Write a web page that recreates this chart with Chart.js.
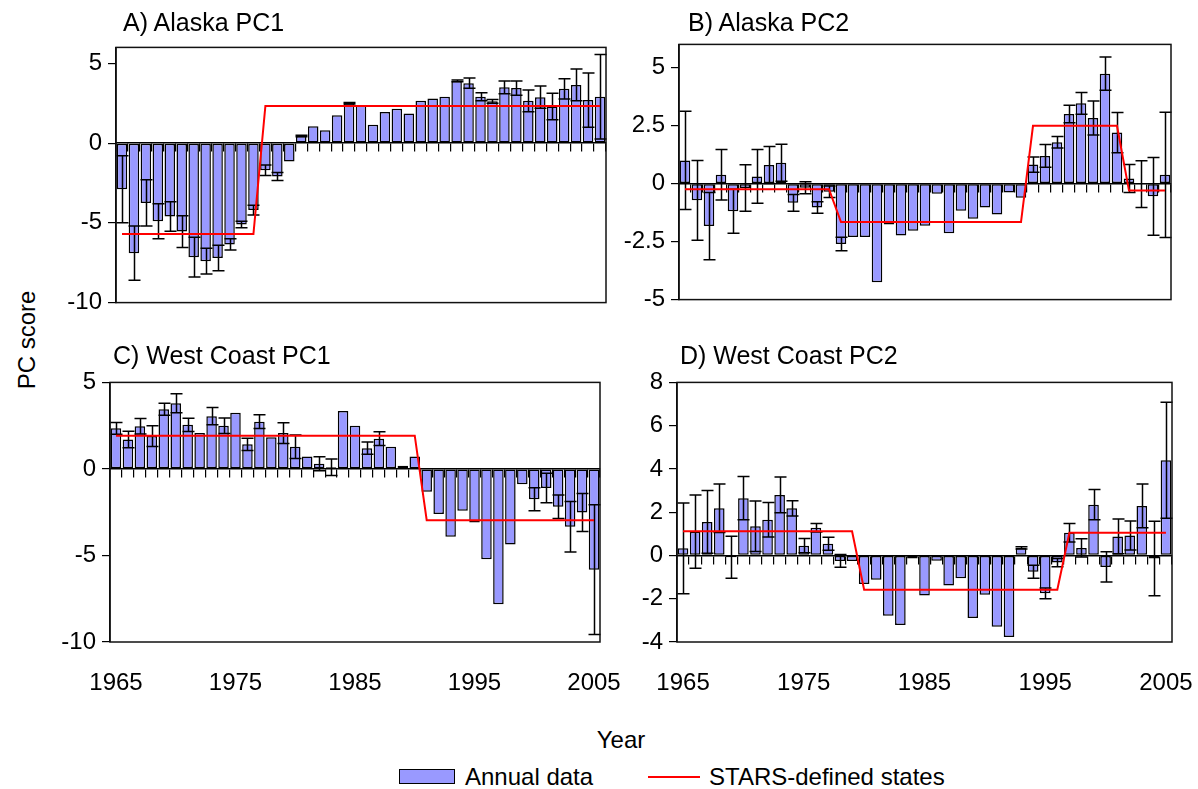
<!DOCTYPE html>
<html><head><meta charset="utf-8">
<script src="https://cdn.jsdelivr.net/npm/chart.js@4.4.1/dist/chart.umd.min.js"></script>
<style>
html,body{margin:0;padding:0;background:#fff;}
#wrap{position:relative;width:1198px;height:789px;overflow:hidden;font-family:"Liberation Sans",Arial,sans-serif;color:#000;background:#fff;}
canvas{position:absolute;}
.t{position:absolute;font-size:24px;white-space:nowrap;line-height:1;}
.h{font-size:25px;}
</style></head><body><div id="wrap">
<canvas id="cA" width="580" height="296" style="left:56px;top:27px"></canvas>
<canvas id="cB" width="582" height="296" style="left:619px;top:24px"></canvas>
<canvas id="cC" width="600" height="340" style="left:50px;top:362px"></canvas>
<canvas id="cD" width="605" height="340" style="left:617px;top:362px"></canvas>
<div class="t h" style="left:123px;top:10px">A) Alaska PC1</div>
<div class="t h" style="left:688px;top:10px">B) Alaska PC2</div>
<div class="t h" style="left:113px;top:343px">C) West Coast PC1</div>
<div class="t h" style="left:680px;top:343px">D) West Coast PC2</div>
<div class="t" style="left:27px;top:340px;transform:translate(-50%,-50%) rotate(-90deg)">PC score</div>
<div class="t" style="left:621px;top:740px;transform:translate(-50%,-50%)">Year</div>
<div style="position:absolute;left:399px;top:769px;width:56px;height:15px;background:#9999ff;border:1.5px solid #000;box-sizing:border-box"></div>
<div class="t" style="left:465px;top:765px">Annual data</div>
<div style="position:absolute;left:648px;top:776px;width:52px;height:2px;background:#ff0000"></div>
<div class="t" style="left:709px;top:765px">STARS-defined states</div>
</div>
<script>
// ---- data ----
const years = [1965,1966,1967,1968,1969,1970,1971,1972,1973,1974,1975,1976,1977,1978,1979,1980,1981,1982,1983,1984,1985,1986,1987,1988,1989,1990,1991,1992,1993,1994,1995,1996,1997,1998,1999,2000,2001,2002,2003,2004,2005];
const tickYears = [1965,1975,1985,1995,2005];

const alaskaPC1 = [-2.9,-6.9,-3.75,-4.9,-4.6,-5.55,-7.15,-7.4,-7.2,-6.35,-5.1,-4.2,-1.7,-2.1,-1.15,0.45,1.05,0.8,1.75,2.5,2.35,1.15,1.95,2.15,1.85,2.65,2.8,2.9,3.9,3.76,2.9,2.62,3.5,3.45,2.65,2.88,2.3,3.4,3.65,2.7,2.9];
const alaskaPC1Err = [2.1,1.7,1.45,1.1,0.93,1.0,1.25,0.8,0.8,0.35,0.2,0.3,0.33,0.25,0,0.05,0,0,0,0.05,0,0,0,0,0,0,0,0,0.05,0.32,0.25,0.12,0.4,0.45,0.68,0.7,0.83,0.63,1.0,1.7,2.65];
const alaskaPC1Stars = [-5.7,-5.7,-5.7,-5.7,-5.7,-5.7,-5.7,-5.7,-5.7,-5.7,-5.7,-5.7,2.33,2.33,2.33,2.33,2.33,2.33,2.33,2.33,2.33,2.33,2.33,2.33,2.33,2.33,2.33,2.33,2.33,2.33,2.33,2.33,2.33,2.33,2.33,2.33,2.33,2.33,2.33,2.33,2.33];

const alaskaPC2 = [1.0,-0.72,-1.83,0.38,-1.19,-0.19,0.31,0.8,0.9,-0.83,-0.18,-1.03,-0.35,-2.6,-2.3,-2.3,-4.25,-1.76,-2.24,-2.03,-1.82,-0.44,-2.14,-1.17,-1.51,-1.03,-1.33,-0.38,-0.61,0.82,1.19,1.78,3.0,3.46,2.83,4.74,2.2,0.22,-0.02,-0.55,0.38];
const alaskaPC2Err = [2.12,1.72,1.45,1.09,0.95,1.0,1.16,0.8,0.8,0.36,0.26,0.25,0.25,0.29,0,0,0,0,0,0,0,0,0,0,0,0,0,0,0,0.33,0.49,0.25,0.38,0.47,0.73,0.72,0.87,0.6,1.01,1.68,2.7];
const alaskaPC2Stars = [-0.24,-0.24,-0.24,-0.24,-0.24,-0.24,-0.24,-0.24,-0.24,-0.24,-0.24,-0.24,-0.24,-1.66,-1.66,-1.66,-1.66,-1.66,-1.66,-1.66,-1.66,-1.66,-1.66,-1.66,-1.66,-1.66,-1.66,-1.66,-1.66,2.49,2.49,2.49,2.49,2.49,2.49,2.49,2.49,-0.3,-0.3,-0.3,-0.3];

const westPC1 = [2.35,1.7,2.47,1.9,3.45,3.8,2.55,2.07,3.05,2.5,3.24,1.42,2.73,1.83,2.07,1.28,0.72,0.3,0.1,3.35,2.49,1.2,1.75,1.28,0.19,0.72,-1.32,-2.6,-3.92,-2.41,-3.1,-5.22,-7.82,-4.37,-0.89,-1.75,-1.1,-2.18,-3.34,-2.52,-5.82];
const westPC1Err = [0.34,0.48,0.45,0.6,0.35,0.55,0.38,0,0.5,0.45,0,0.35,0.4,0,0.6,0.68,0,0.4,0.48,0,0,0.35,0.4,0,0,0,0,0,0,0,0,0,0,0,0,0.66,0.85,0.68,1.46,1.1,3.75];
const westPC1Stars = [1.92,1.92,1.92,1.92,1.92,1.92,1.92,1.92,1.92,1.92,1.92,1.92,1.92,1.92,1.92,1.92,1.92,1.92,1.92,1.92,1.92,1.92,1.92,1.92,1.92,1.92,-2.96,-2.96,-2.96,-2.96,-2.96,-2.96,-2.96,-2.96,-2.96,-2.96,-2.96,-2.96,-2.96,-2.96,-2.96];

const westPC2 = [0.33,1.1,1.55,2.18,-0.08,2.65,1.35,1.65,2.8,2.18,0.45,1.28,0.54,-0.25,-0.26,-1.32,-1.12,-2.79,-3.21,-0.14,-1.85,-0.24,-1.39,-1.05,-2.89,-1.82,-3.3,-3.77,0.35,-0.75,-1.75,-0.33,1.05,0.35,2.35,-0.53,0.88,0.92,2.29,-0.14,4.4];
const westPC2Err = [2.1,1.69,1.45,1.12,0.97,1.0,1.17,0.8,0.83,0.35,0.33,0.2,0.3,0.3,0,0,0,0,0,0,0,0,0,0,0,0,0,0,0.05,0.3,0.25,0.19,0.43,0.42,0.7,0.7,0.8,0.67,1.01,1.72,2.68];
const westPC2Stars = [1.12,1.12,1.12,1.12,1.12,1.12,1.12,1.12,1.12,1.12,1.12,1.12,1.12,1.12,1.12,-1.58,-1.58,-1.58,-1.58,-1.58,-1.58,-1.58,-1.58,-1.58,-1.58,-1.58,-1.58,-1.58,-1.58,-1.58,-1.58,-1.58,1.05,1.05,1.05,1.05,1.05,1.05,1.05,1.05,1.05];

const yTicksA = [-10,-5,0,5];
const yTicksB = [-5,-2.5,0,2.5,5];
const yTicksC = [-10,-5,0,5];
const yTicksD = [-4,-2,0,2,4,6,8];

// ---- drawing ----
const FONT = {family:'"Liberation Sans", Arial, sans-serif', size:24};
const BAR_FILL = '#9999ff';

const errorBarPlugin = {
  id:'errorBars',
  afterDatasetDraw(chart, args){
    if (args.index !== 0) return;
    const ds = chart.data.datasets[0];
    const errs = ds.errors; if (!errs) return;
    const ys = chart.scales.y;
    const ctx = chart.ctx;
    ctx.save();
    ctx.strokeStyle = '#000'; ctx.lineWidth = 1.5;
    args.meta.data.forEach((bar, i) => {
      const e = errs[i]; if (!e) return;
      const v = ds.data[i];
      const yHi = ys.getPixelForValue(v + e), yLo = ys.getPixelForValue(v - e);
      const x = Math.round(bar.x) + 0.5, cw = 6;
      ctx.beginPath();
      ctx.moveTo(x, yHi); ctx.lineTo(x, yLo);
      ctx.moveTo(x - cw, yHi); ctx.lineTo(x + cw, yHi);
      ctx.moveTo(x - cw, yLo); ctx.lineTo(x + cw, yLo);
      ctx.stroke();
    });
    ctx.restore();
  }
};
const framePlugin = {
  id:'frame',
  afterDatasetsDraw(chart){
    const a = chart.chartArea, ctx = chart.ctx;
    ctx.save(); ctx.strokeStyle = '#111'; ctx.lineWidth = 1.5;
    ctx.strokeRect(a.left, a.top, a.right - a.left, a.bottom - a.top);
    ctx.restore();
  }
};

function makeChart(id, vals, errs, stars, yMin, yMax, yTicks, showX){
  const xH = showX ? 60 : 16;
  const padR = showX ? 50 : 30;
  return new Chart(document.getElementById(id), {
    data: {
      labels: years,
      datasets: [
        {type:'bar', label:'Annual data', data: vals, errors: errs, xAxisID:'x', yAxisID:'y',
         backgroundColor: BAR_FILL, borderColor:'#000', borderWidth:1.5, borderSkipped:false,
         barPercentage:0.88, categoryPercentage:1.0, order:1},
        {type:'line', label:'STARS-defined states', data: stars, xAxisID:'x', yAxisID:'y',
         borderColor:'#ff0000', borderWidth:2, pointRadius:0, tension:0, fill:false, order:0}
      ]
    },
    options: {
      responsive:false, animation:false, devicePixelRatio:1,
      layout:{padding:{top:15, right:padR, left:0, bottom:0}},
      plugins:{legend:{display:false}, tooltip:{enabled:false}},
      scales:{
        x:{type:'category', position:'bottom', offset:true,
           grid:{display:false, drawTicks:false, offset:true},
           border:{display:false},
           ticks:{display:showX, autoSkip:false, maxRotation:0, minRotation:0, padding:27, color:'#000', font:FONT,
                  callback:(val, idx) => tickYears.includes(years[idx]) ? String(years[idx]) : ''},
           afterFit:(s) => { s.height = xH; }},
        x0:{type:'category', position:{y:0}, offset:true,
            grid:{display:true, drawOnChartArea:false, drawTicks:true, tickLength:8, color:'#000', lineWidth:1.2, offset:true},
            border:{display:true, color:'#000', width:1.5},
            ticks:{display:false}},
        y:{type:'linear', position:'left', min:yMin, max:yMax,
           afterBuildTicks:(s) => { s.ticks = yTicks.map(v => ({value:v})); },
           grid:{display:true, drawOnChartArea:false, drawTicks:true, tickLength:8, color:'#000', lineWidth:1.2},
           border:{display:true, color:'#000', width:1.5},
           ticks:{color:'#000', font:FONT, padding:6, callback:(v) => String(v)},
           afterFit:(s) => { s.width = 60; }}
      }
    },
    plugins:[errorBarPlugin, framePlugin]
  });
}

makeChart('cA', alaskaPC1, alaskaPC1Err, alaskaPC1Stars, -10, 6, yTicksA, false);
makeChart('cB', alaskaPC2, alaskaPC2Err, alaskaPC2Stars, -5, 6, yTicksB, false);
makeChart('cC', westPC1, westPC1Err, westPC1Stars, -10, 5, yTicksC, true);
makeChart('cD', westPC2, westPC2Err, westPC2Stars, -4, 8, yTicksD, true);
</script>
</body></html>
